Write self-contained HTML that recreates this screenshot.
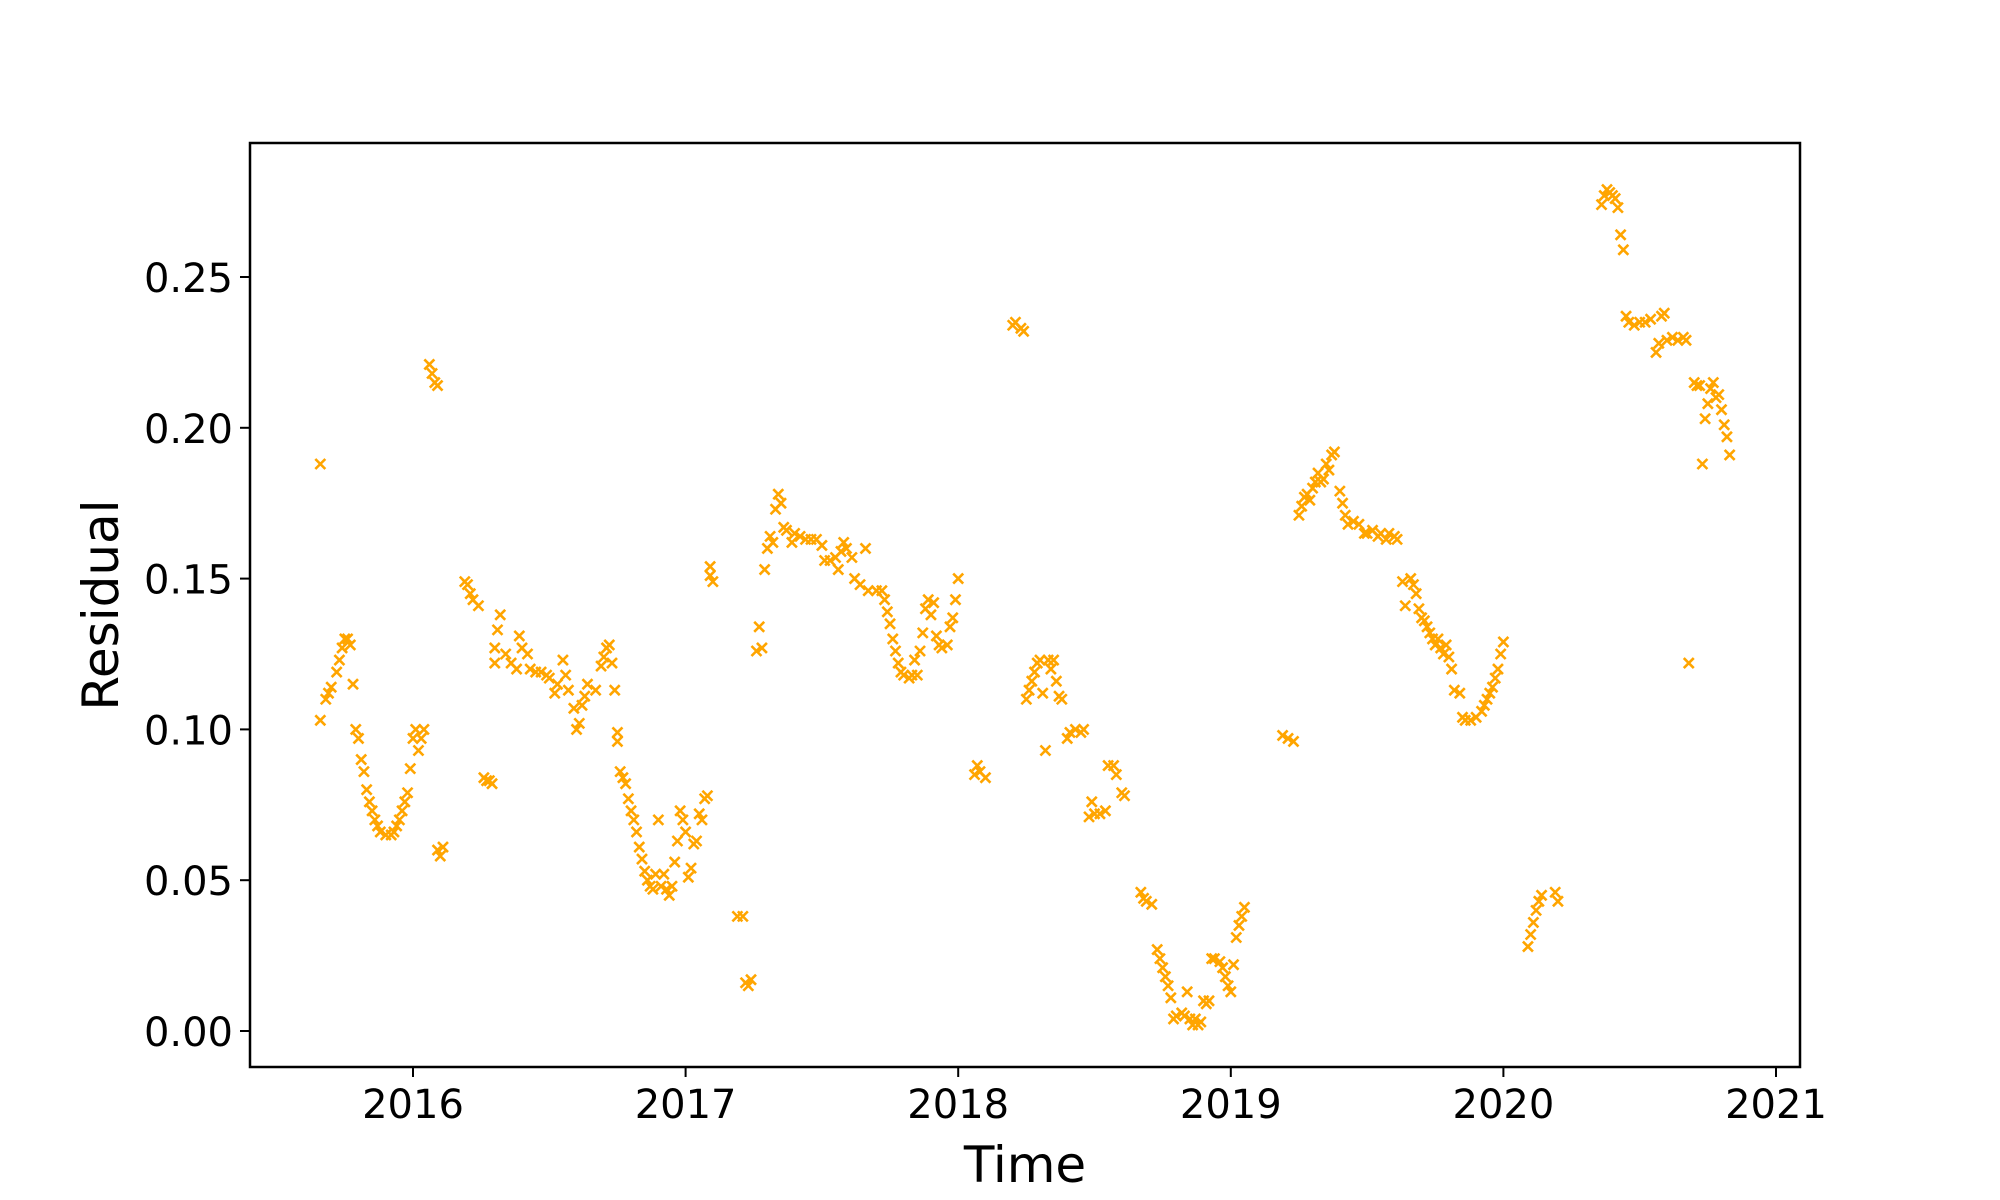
<!DOCTYPE html>
<html><head><meta charset="utf-8"><style>
html,body{margin:0;padding:0;background:#fff;}
svg{display:block;font-family:"DejaVu Sans","Liberation Sans",sans-serif;}
</style></head><body>
<svg id="chart" width="2000" height="1200" viewBox="0 0 2000 1200" xmlns="http://www.w3.org/2000/svg">
<rect width="2000" height="1200" fill="#fff"/>
<g id="marks"></g>
<g id="axes"></g>
</svg>
<script>
const times = [2015.66,2015.66,2015.68,2015.69,2015.70,2015.72,2015.73,2015.74,2015.75,2015.76,2015.77,2015.78,
2015.79,2015.80,2015.81,2015.82,2015.83,2015.84,2015.85,2015.86,2015.87,2015.88,2015.90,2015.92,2015.93,2015.94,2015.95,2015.96,2015.97,2015.98,2015.99,2016.00,2016.01,2016.02,2016.03,2016.04,
2016.06,2016.07,2016.08,2016.09,2016.09,2016.10,2016.11,
2016.19,2016.20,2016.21,2016.22,2016.24,
2016.26,2016.27,2016.28,2016.29,
2016.30,2016.30,2016.31,2016.32,2016.34,2016.36,2016.38,2016.39,2016.40,2016.42,2016.43,2016.45,2016.47,2016.49,2016.50,2016.52,2016.53,2016.55,2016.56,2016.57,2016.59,2016.60,2016.61,2016.62,2016.63,2016.64,2016.67,2016.69,2016.70,2016.71,2016.72,2016.73,2016.74,
2016.75,2016.75,2016.76,2016.77,2016.78,2016.79,2016.80,2016.81,2016.82,2016.83,2016.84,2016.85,2016.86,2016.87,2016.88,2016.89,2016.90,2016.91,2016.92,2016.93,2016.94,2016.95,2016.96,2016.97,2016.98,2016.99,2017.00,2017.01,2017.02,2017.03,2017.04,2017.05,2017.06,2017.07,2017.08,
2017.09,2017.09,2017.10,
2017.19,2017.21,
2017.22,2017.23,2017.24,
2017.26,2017.27,2017.28,2017.29,2017.30,2017.31,2017.32,2017.33,2017.34,2017.35,2017.36,2017.37,2017.39,2017.40,2017.42,2017.44,2017.46,2017.48,2017.50,2017.51,2017.53,2017.55,2017.56,2017.57,2017.58,2017.59,2017.61,2017.62,2017.64,2017.66,2017.67,2017.70,2017.72,2017.73,2017.74,2017.75,2017.76,2017.77,2017.78,2017.79,2017.80,2017.82,2017.83,2017.84,2017.85,2017.86,2017.87,2017.88,2017.89,2017.90,2017.91,2017.92,2017.93,2017.94,2017.96,2017.97,2017.98,2017.99,2018.00,
2018.06,2018.07,2018.08,2018.10,
2018.20,2018.21,2018.23,2018.24,
2018.25,2018.26,2018.27,2018.28,2018.29,2018.30,2018.31,2018.32,2018.33,2018.34,2018.35,2018.36,2018.37,2018.38,
2018.40,2018.41,2018.43,2018.45,2018.46,
2018.48,2018.49,2018.50,2018.52,2018.54,
2018.55,2018.57,2018.58,
2018.60,2018.61,
2018.67,2018.68,2018.69,2018.71,
2018.73,2018.74,2018.75,2018.76,2018.77,2018.78,2018.79,2018.80,2018.82,2018.83,2018.84,2018.85,2018.86,2018.87,2018.88,2018.89,2018.90,2018.91,2018.92,2018.93,2018.94,2018.96,2018.97,2018.98,2018.99,2019.00,2019.01,2019.02,2019.03,2019.04,2019.05,
2019.19,2019.21,2019.23,
2019.25,2019.26,2019.27,2019.28,2019.29,2019.30,2019.31,2019.32,2019.33,2019.34,2019.35,2019.36,2019.37,2019.38,2019.40,2019.41,2019.42,2019.43,2019.45,2019.47,2019.49,2019.50,2019.52,2019.54,2019.55,2019.57,2019.58,2019.60,2019.61,
2019.63,2019.64,2019.66,2019.67,2019.68,2019.69,2019.70,2019.71,2019.72,2019.73,2019.74,2019.75,2019.76,2019.77,2019.78,2019.79,2019.80,2019.81,2019.82,2019.84,2019.85,2019.86,2019.88,2019.90,2019.92,2019.93,2019.94,2019.95,2019.96,2019.97,2019.98,2019.99,2020.00,
2020.09,2020.10,2020.11,2020.12,2020.13,2020.14,2020.19,2020.20,
2020.36,2020.37,2020.38,2020.39,2020.40,2020.41,2020.42,2020.43,2020.44,
2020.45,2020.46,2020.48,2020.50,2020.52,2020.54,2020.56,2020.57,2020.58,2020.59,2020.60,2020.62,2020.64,2020.66,2020.67,2020.68,2020.70,2020.71,2020.72,2020.73,2020.74,2020.75,2020.76,2020.77,2020.78,2020.79,2020.80,2020.81,2020.82,2020.83];
const residuals = [.188,.103,.110,.112,.114,.119,.123,.127,.130,.130,.128,.115,
.100,.097,.090,.086,.080,.076,.073,.070,.068,.066,.065,.065,.066,.068,.070,.073,.076,.079,.087,.097,.100,.093,.097,.100,
.221,.218,.215,.214,.060,.058,.061,
.149,.148,.145,.143,.141,
.084,.083,.083,.082,
.127,.122,.133,.138,.125,.122,.120,.131,.127,.125,.120,.119,.119,.118,.117,.112,.115,.123,.118,.113,.107,.100,.102,.108,.111,.115,.113,.121,.124,.127,.128,.122,.113,
.099,.096,.086,.084,.082,.077,.073,.070,.066,.061,.057,.053,.050,.048,.047,.052,.070,.048,.052,.047,.045,.048,.056,.063,.073,.070,.066,.051,.054,.062,.063,.072,.070,.077,.078,
.154,.151,.149,
.038,.038,
.016,.015,.017,
.126,.134,.127,.153,.160,.164,.162,.173,.178,.175,.167,.166,.162,.165,.164,.163,.163,.163,.161,.156,.156,.157,.153,.159,.162,.160,.157,.150,.148,.160,.146,.146,.146,.143,.139,.135,.130,.126,.122,.119,.118,.117,.118,.123,.118,.126,.132,.140,.143,.138,.142,.131,.128,.127,.128,.134,.137,.143,.150,
.085,.088,.086,.084,
.234,.235,.233,.232,
.110,.113,.116,.119,.122,.123,.112,.093,.123,.120,.123,.116,.111,.110,
.097,.099,.100,.099,.100,
.071,.076,.072,.072,.073,
.088,.088,.085,
.079,.078,
.046,.044,.043,.042,
.027,.024,.021,.018,.015,.011,.004,.005,.006,.005,.013,.004,.002,.004,.002,.003,.010,.009,.010,.024,.024,.023,.021,.018,.015,.013,.022,.031,.035,.038,.041,
.098,.097,.096,
.171,.174,.177,.178,.176,.180,.182,.185,.182,.183,.188,.186,.191,.192,.179,.175,.171,.168,.169,.168,.165,.165,.166,.164,.165,.163,.165,.164,.163,
.149,.141,.150,.148,.145,.140,.137,.136,.134,.132,.130,.128,.130,.127,.125,.128,.124,.120,.113,.112,.104,.103,.103,.104,.106,.108,.110,.112,.114,.117,.120,.125,.129,
.028,.032,.036,.040,.043,.045,.046,.043,
.274,.277,.279,.278,.277,.276,.273,.264,.259,
.237,.235,.234,.235,.235,.236,.225,.228,.237,.238,.229,.230,.229,.230,.229,.122,.215,.214,.214,.188,.203,.208,.213,.215,.210,.211,.206,.201,.197,.191];
const xTicks = [2016,2017,2018,2019,2020,2021];
const yTicks = [0,0.05,0.10,0.15,0.20,0.25];
const yTickLabels = ["0.00","0.05","0.10","0.15","0.20","0.25"];

const L=250,R=1800,T=143,B=1067;
const x = t => 413 + (t-2016)*272.6;
const y = v => 1031 - v*3016;
const NS="http://www.w3.org/2000/svg";
function mk(tag, attrs, parent){const e=document.createElementNS(NS,tag);for(const k in attrs)e.setAttribute(k,attrs[k]);parent.appendChild(e);return e;}
const marks=document.getElementById('marks');
const s=5;
for(let i=0;i<times.length;i++){
  const cx=x(times[i]), cy=y(residuals[i]);
  const p=mk('path',{d:`M${cx-s},${cy-s}L${cx+s},${cy+s}M${cx-s},${cy+s}L${cx+s},${cy-s}`,stroke:'#ffa500','stroke-width':2.6,fill:'none'},marks);
  
  
}
const axes=document.getElementById('axes');
const frame=mk('rect',{x:L,y:T,width:R-L,height:B-T,fill:'none',stroke:'#000','stroke-width':2.5},axes);


xTicks.forEach(t=>{
  const tk=mk('line',{x1:x(t),x2:x(t),y1:B,y2:B+10,stroke:'#000','stroke-width':2},axes);
  
  
  const tx=mk('text',{x:x(t),y:B+51,'font-size':40,'text-anchor':'middle',fill:'#000'},axes);
  tx.textContent=String(t);
  
  
});
yTicks.forEach((v,i)=>{
  const tk=mk('line',{x1:L-10,x2:L,y1:y(v),y2:y(v),stroke:'#000','stroke-width':2},axes);
  
  
  const tx=mk('text',{x:L-17,y:y(v)+15,'font-size':40,'text-anchor':'end',fill:'#000'},axes);
  tx.textContent=yTickLabels[i];
  
  
});
const xl=mk('text',{x:(L+R)/2,y:1182,'font-size':50,'text-anchor':'middle',fill:'#000'},axes);
xl.textContent='Time';


const yl=mk('text',{x:0,y:0,'font-size':50,'text-anchor':'middle',fill:'#000',transform:`translate(118,${(T+B)/2}) rotate(-90)`},axes);
yl.textContent='Residual';


</script>
</body></html>
